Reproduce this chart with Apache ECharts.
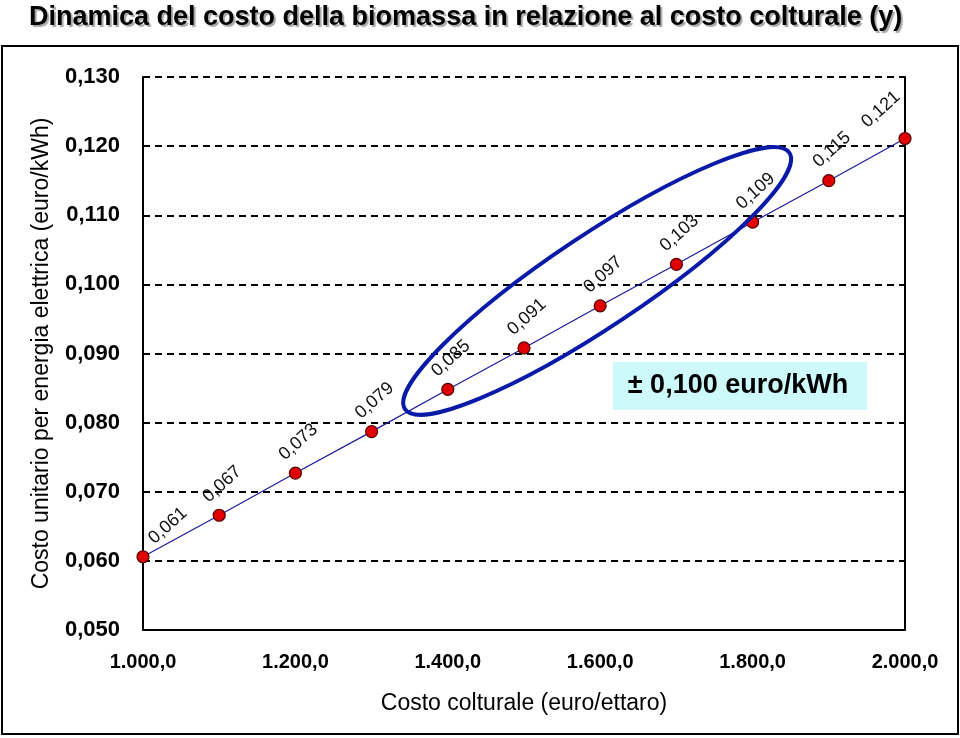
<!DOCTYPE html>
<html><head><meta charset="utf-8">
<script src="https://cdn.jsdelivr.net/npm/echarts@6/dist/echarts.min.js"></script>
<style>html,body{margin:0;padding:0;background:#fff}#c{width:960px;height:738px}</style>
</head><body><div id="c"></div>
<script>
// ---- data ----
const costoColturale = [1000, 1100, 1200, 1300, 1400, 1500, 1600, 1700, 1800, 1900, 2000];
const costoUnitario = [0.0606, 0.0666, 0.0727, 0.0787, 0.0848, 0.0908, 0.0969, 0.1029, 0.1090, 0.1150, 0.1211];
const xTickLabels = {1000: '1.000,0', 1200: '1.200,0', 1400: '1.400,0', 1600: '1.600,0', 1800: '1.800,0', 2000: '2.000,0'};
const yTickLabels = ['0,050', '0,060', '0,070', '0,080', '0,090', '0,100', '0,110', '0,120', '0,130'];
const titleText = 'Dinamica del costo della biomassa in relazione al costo colturale (y)';
const xName = 'Costo colturale (euro/ettaro)';
const yName = 'Costo unitario per energia elettrica (euro/kWh)';
const boxText = '± 0,100 euro/kWh';
const ellipseCenter = [1596, 0.1005];

const ARIAL = "'Liberation Sans',Arial,sans-serif";
const ROT = 42;
const rad = ROT * Math.PI / 180, C = Math.cos(rad), S = Math.sin(rad);
function toLocal(sx, sy) { return [C * sx - S * sy, S * sx + C * sy]; }

const pts = costoColturale.map((x, i) => {
  let off = [3, -31];
  if (i === 0) off = [25, -31];
  if (i === costoColturale.length - 1) off = [-24, -29];
  return { value: [x, costoUnitario[i]], label: { offset: toLocal(off[0], off[1]) } };
});

const chart = echarts.init(document.getElementById('c'), null, { renderer: 'canvas' });
chart.setOption({
  animation: false,
  backgroundColor: '#fff',
  title: {
    text: titleText, left: 24, top: -1,
    textStyle: { fontFamily: ARIAL, fontWeight: 'bold', fontSize: 27, color: '#000',
      textShadowColor: 'rgba(0,0,0,0.35)', textShadowOffsetX: 2, textShadowOffsetY: 2, textShadowBlur: 1 }
  },
  grid: { left: 143, right: 55, top: 77, bottom: 108 },
  xAxis: {
    type: 'value', min: 1000, max: 2000, interval: 200,
    name: xName, nameLocation: 'middle', nameGap: 62,
    nameTextStyle: { fontFamily: ARIAL, fontSize: 23, color: '#000' },
    axisLine: { show: true, lineStyle: { color: '#000', width: 2 } },
    axisTick: { show: false },
    splitLine: { show: false },
    axisLabel: { margin: 22, fontFamily: ARIAL, fontWeight: 'bold', fontSize: 20, color: '#000',
      formatter: v => xTickLabels[v] || '' }
  },
  yAxis: [{
    type: 'value', min: 0.05, max: 0.13, interval: 0.01,
    name: yName, nameLocation: 'middle', nameGap: 90,
    nameTextStyle: { fontFamily: ARIAL, fontSize: 23, color: '#000' },
    axisLine: { show: true, lineStyle: { color: '#000', width: 2 } },
    axisTick: { show: false },
    splitLine: { show: true, lineStyle: { color: '#000', type: [7, 5], width: 2 } },
    axisLabel: { margin: 23, fontFamily: ARIAL, fontWeight: 'bold', fontSize: 22, color: '#000',
      formatter: v => yTickLabels[Math.round((v - 0.05) / 0.01)] }
  }, {
    type: 'value', min: 0.05, max: 0.13, interval: 0.01, position: 'right',
    axisLine: { show: true, onZero: false, lineStyle: { color: '#000', width: 2 } },
    axisTick: { show: false }, axisLabel: { show: false }, splitLine: { show: false }
  }],
  series: [{
    type: 'line', data: pts,
    symbol: 'circle', symbolSize: 12,
    itemStyle: { color: '#e00000', borderColor: '#500000', borderWidth: 1.2 },
    lineStyle: { color: '#1a1a9a', width: 1.2 },
    label: {
      show: true, position: 'inside', rotate: ROT, align: 'center', verticalAlign: 'middle',
      fontFamily: ARIAL, fontSize: 18, color: '#111',
      formatter: p => p.value[1].toFixed(3).replace('.', ',')
    },
    z: 5
  }]
});

function drawGraphics() {
  const c = chart.convertToPixel({ gridIndex: 0 }, ellipseCenter);
  chart.setOption({
    graphic: [
      { type: 'rect', shape: { x: 2, y: 46, width: 956, height: 688 },
        style: { fill: 'none', stroke: '#000', lineWidth: 2 }, z: 10 },
      { type: 'ellipse', x: c[0], y: c[1], rotation: 33.7 * Math.PI / 180,
        shape: { cx: 0, cy: 0, rx: 231, ry: 46 },
        style: { fill: 'none', stroke: '#0a1aa8', lineWidth: 4 }, z: 10 },
      { type: 'rect', shape: { x: 613, y: 362, width: 254, height: 48 },
        style: { fill: '#cdf9fb' }, z: 10 },
      { type: 'text', x: 738, y: 386, style: { text: boxText, align: 'center', verticalAlign: 'middle',
        font: "bold 27px 'Liberation Sans',Arial,sans-serif", fill: '#000' }, z: 11 }
    ]
  });
}
drawGraphics();
</script>
</body></html>
